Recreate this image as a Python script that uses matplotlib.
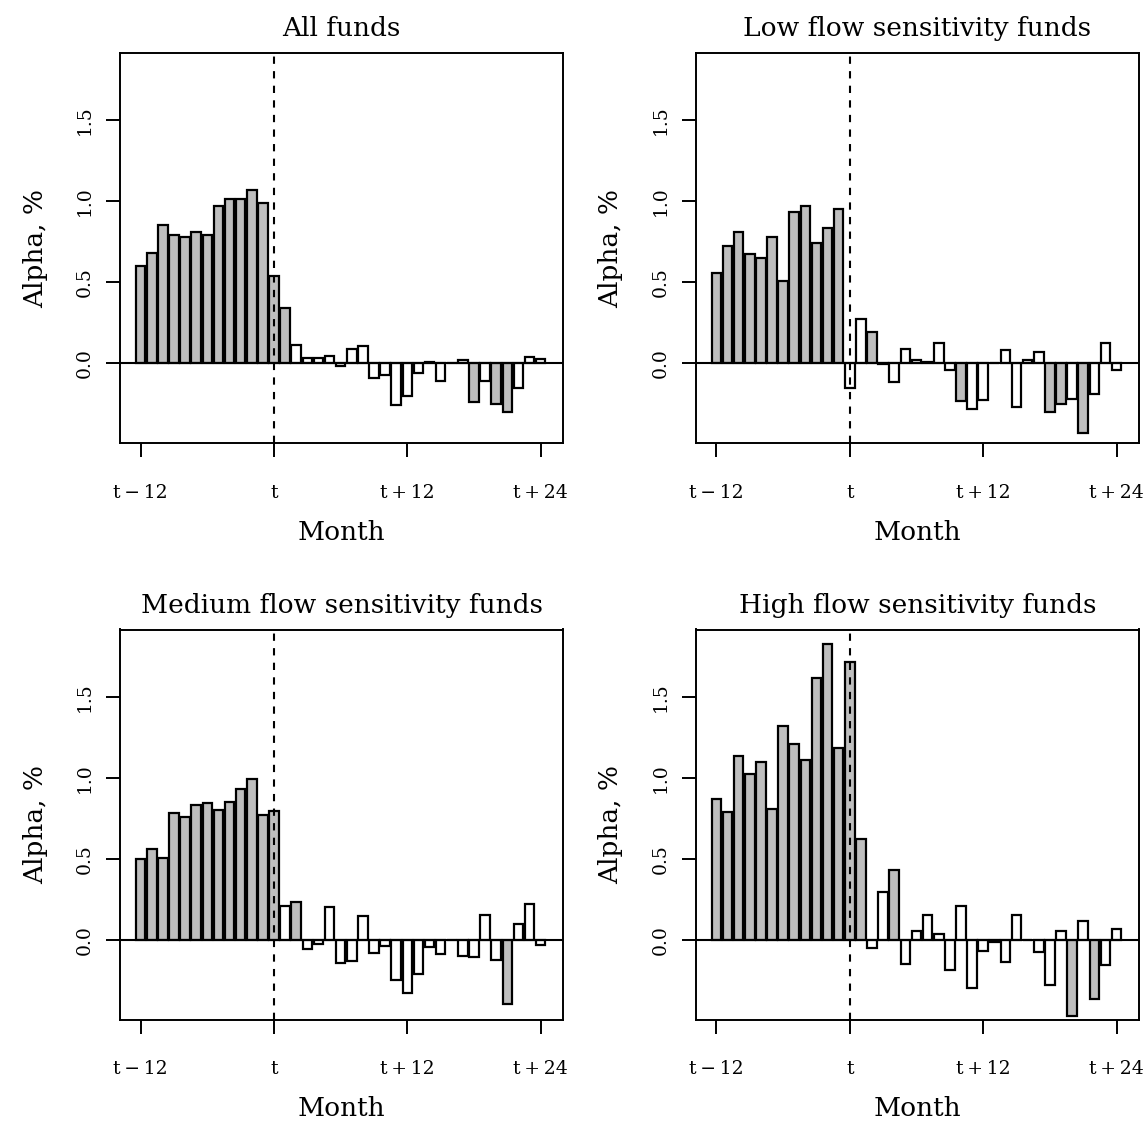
import matplotlib
matplotlib.use("Agg")
import matplotlib.pyplot as plt
import numpy as np

plt.rcParams['font.family'] = ['DejaVu Serif']

months = list(range(-12, 25))
xtick_pos = [-12, 0, 12, 24]
xtick_labels = ["t\u2009\u2212\u200912", "t", "t\u2009+\u200912", "t\u2009+\u200924"]
ytick_pos = [0.0, 0.5, 1.0, 1.5]
ytick_labels = ["0.0", "0.5", "1.0", "1.5"]

titles = ["All funds", "Low flow sensitivity funds",
          "Medium flow sensitivity funds", "High flow sensitivity funds"]

alpha_all = [0.60, 0.68, 0.85, 0.79, 0.78, 0.81, 0.79, 0.97, 1.01, 1.01, 1.07, 0.99,
             0.54, 0.34, 0.115, 0.03, 0.035, 0.045, -0.02, 0.09, 0.105, -0.09, -0.07,
             -0.26, -0.20, -0.06, 0.005, -0.11, 0.002, 0.02, -0.24, -0.11, -0.25, -0.30,
             -0.15, 0.04, 0.025]
sig_all = [1]*14 + [0]*16 + [1, 0, 1, 1, 0, 0, 0]

alpha_low = [0.556, 0.72, 0.81, 0.675, 0.65, 0.776, 0.51, 0.93, 0.97, 0.74, 0.835, 0.95,
             -0.15, 0.27, 0.19, -0.005, -0.115, 0.09, 0.02, 0.008, 0.125, -0.045, -0.235,
             -0.28, -0.23, 0.0, 0.08, -0.27, 0.02, 0.07, -0.30, -0.25, -0.22, -0.43,
             -0.19, 0.125, -0.04]
sig_low = [1]*12 + [0, 0, 1] + [0]*7 + [1] + [0]*7 + [1, 1, 0, 1, 0, 0, 0]

alpha_med = [0.50, 0.557, 0.504, 0.78, 0.757, 0.83, 0.844, 0.80, 0.85, 0.928, 0.99, 0.767,
             0.796, 0.208, 0.235, -0.058, -0.025, 0.20, -0.146, -0.13, 0.148, -0.08, -0.037,
             -0.25, -0.33, -0.21, -0.047, -0.09, 0.0, -0.10, -0.105, 0.154, -0.125, -0.395,
             0.099, 0.22, -0.033]
sig_med = [1]*13 + [0, 1] + [0]*18 + [1, 0, 0, 0]

alpha_high = [0.87, 0.79, 1.136, 1.025, 1.095, 0.807, 1.317, 1.206, 1.109, 1.617, 1.825, 1.185,
              1.714, 0.62, -0.05, 0.296, 0.432, -0.15, 0.056, 0.154, 0.035, -0.19, 0.206,
              -0.30, -0.07, -0.016, -0.138, 0.152, 0.0, -0.074, -0.28, 0.051, -0.47, 0.117,
              -0.364, -0.158, 0.066]
sig_high = [1]*14 + [0, 0, 1] + [0]*15 + [1, 0, 1, 0, 0]

series = [(alpha_all, sig_all), (alpha_low, sig_low),
          (alpha_med, sig_med), (alpha_high, sig_high)]

W, H = 1146, 1124
fig = plt.figure(figsize=(W/100, H/100), dpi=100)

boxes = [(120, 52.7, 563.3, 443.3), (695.7, 52.7, 1139.3, 443.3),
         (120, 629.5, 563.3, 1019.7), (695.7, 629.5, 1139.3, 1019.7)]

for (l, t, r, b), title, (vals, sig) in zip(boxes, titles, series):
    ax = fig.add_axes([l/W, 1-b/H, (r-l)/W, (b-t)/H])
    colors = ['#bebebe' if s else 'white' for s in sig]
    ax.bar(months, vals, width=0.86, color=colors, edgecolor='black', linewidth=1.6, zorder=2)
    ax.axhline(0, color='black', linewidth=1.5, zorder=3)
    ax.axvline(0, color='black', linewidth=1.5, linestyle=(0, (3.5, 3.5)), zorder=3)
    ax.set_xlim(-13.86, 26.04)
    ax.set_ylim(-0.494, 1.915)
    ax.set_xticks(xtick_pos)
    ax.set_xticklabels(xtick_labels, fontsize=13.5)
    ax.set_yticks(ytick_pos)
    ax.set_yticklabels(ytick_labels, fontsize=13.5, rotation=90, va='center')
    ax.tick_params(direction='out', length=10, width=1.4)
    ax.tick_params(axis='x', pad=19)
    ax.tick_params(axis='y', pad=9)
    for s in ax.spines.values():
        s.set_linewidth(1.4)
    ax.set_title(title, fontsize=19, pad=12)
    ax.set_xlabel("Month", fontsize=19, labelpad=13)
    ax.set_ylabel("Alpha, %", fontsize=19, labelpad=20)

fig.savefig("out.png", dpi=100)
